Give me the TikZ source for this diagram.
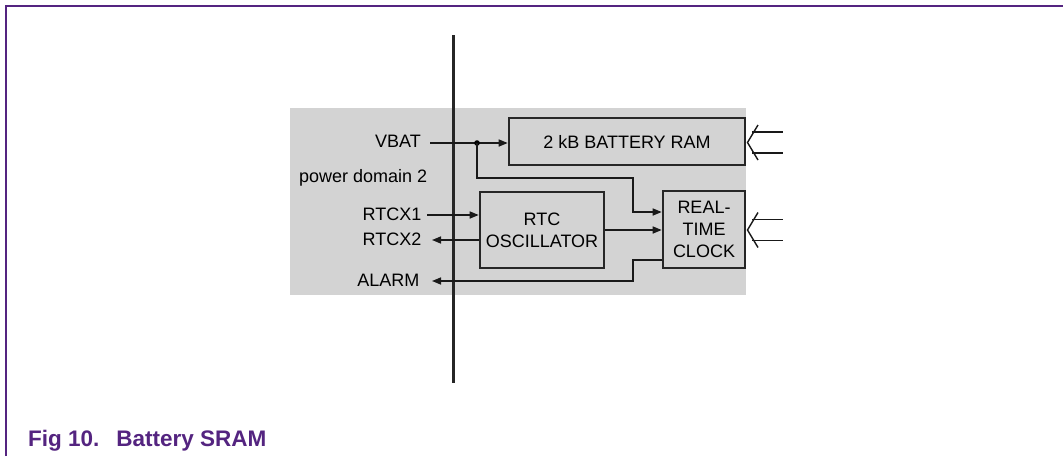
\documentclass[tikz,border=0pt]{standalone}
\usepackage{fontspec}
\setmainfont{Liberation Sans}
\usetikzlibrary{arrows.meta}
\definecolor{nxppurple}{RGB}{84,36,128}
\definecolor{domgray}{RGB}{211,211,211}
\tikzset{
  box/.style={draw=black!85, line width=2.6pt, fill=domgray, inner sep=0pt, align=center,
    font=\fontsize{18}{22}\selectfont},
  lbl/.style={inner sep=0pt, font=\fontsize{18}{22}\selectfont},
  conn/.style={line width=1.5pt, draw=black!90},
  arr/.style={conn, -{Triangle[length=9pt,width=7pt]}},
  bus/.style={line width=1.4pt, draw=black!90},
}
\begin{document}
\begin{tikzpicture}[x=1pt,y=-1pt]
\useasboundingbox (0,0) rectangle (1063,456);
% frame
\draw[nxppurple, line width=1.5pt] (6,456) -- (6,6) -- (1063,6);
% power domain background
\fill[domgray] (290,108) rectangle (746,295);
% boundary line
\draw[line width=3pt, black!85] (453,35) -- (453,383);
% boxes
\node[box, minimum width=236pt, minimum height=47pt] (ram) at (627,141.5) {2 kB BATTERY RAM};
\node[box, minimum width=124pt, minimum height=76pt] (osc) at (542,230) {RTC\\OSCILLATOR};
\node[box, minimum width=82pt, minimum height=77pt] (clk) at (704,229.5) {REAL-\\TIME\\CLOCK};
% labels
\node[lbl, anchor=base east] (vbat) at (421,147.7) {VBAT};
\node[lbl, anchor=base west] (pd) at (299,182.7) {power domain 2};
\node[lbl, anchor=base east] (x1) at (421.5,220) {RTCX1};
\node[lbl, anchor=base east] (x2) at (421.5,245.7) {RTCX2};
\node[lbl, anchor=base east] (alarm) at (419.5,286.7) {ALARM};
% coordinates
\coordinate (vbatL) at (430,143);
\coordinate (dot) at (477,143);
\coordinate (b1) at (633,178);
\coordinate (x1L) at (427,215);
\coordinate (x2L) at (432,240);
\coordinate (alL) at (432,281);
\coordinate (a1) at (633,260);
% connectors
\draw[arr] (vbatL) -- (vbatL -| ram.west);
\fill (dot) circle (2.8pt);
\draw[arr] (dot) |- (b1) |- ([yshift=17.5pt]clk.west);
\draw[arr] (osc.east) -- (osc.east -| clk.west);
\draw[arr] (x1L) -- (x1L -| osc.west);
\draw[arr] (x2L -| osc.west) -- (x2L);
\draw[arr] ([yshift=-30.5pt]clk.west) -| (a1) |- (alL);
% external bus arrows
\coordinate (t1) at (747.5,142.5);
\coordinate (t2) at (747.5,230);
\draw[bus] (758,125) -- (t1) -- (758,160);
\draw[bus] (752,132) -- (783,132);
\draw[bus] (752,153) -- (783,153);
\draw[bus] (758,212.5) -- (t2) -- (758,247.5);
\draw[bus] (752,219.5) -- (783,219.5);
\draw[bus] (752,240.5) -- (783,240.5);
% caption
\node[anchor=base west, inner sep=0pt, text=nxppurple, font=\fontsize{22.5}{26}\selectfont\bfseries] (cap) at (28,446.7) {Fig 10.\hspace{17pt}Battery SRAM};
\end{tikzpicture}
\end{document}
